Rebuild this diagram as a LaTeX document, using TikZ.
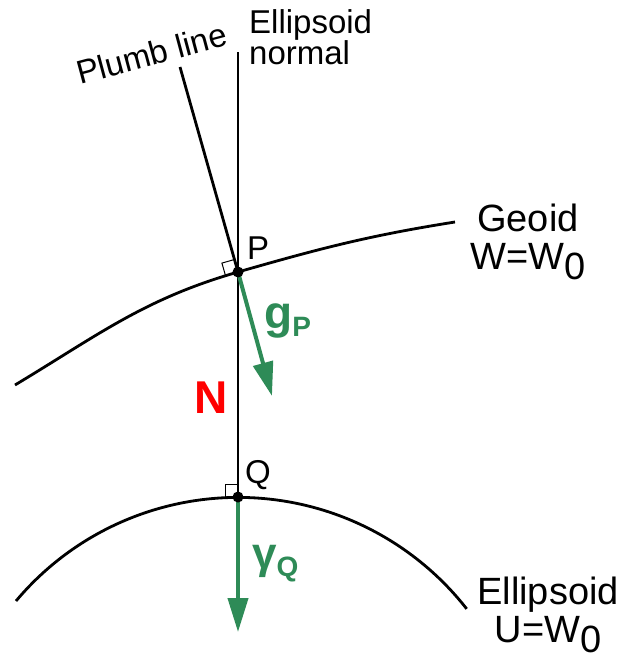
\documentclass[tikz,border=0pt]{standalone}
\usepackage{fontspec}
\setmainfont{Liberation Sans}
\usetikzlibrary{arrows.meta,positioning,calc}
\definecolor{gravgreen}{RGB}{46,139,87}

\begin{document}
\begin{tikzpicture}[x=1pt,y=-1pt,
    surface/.style={line width=2.8pt},
    vec/.style={gravgreen, line width=4pt, -{Triangle[length=34pt,width=20pt]}},
    rightangle/.style={line width=1pt},
    lbl/.style={inner sep=0pt, font=\fontsize{33}{27}\selectfont},
    biglbl/.style={inner sep=0pt, align=center, font=\fontsize{38}{38}\selectfont}]
    \useasboundingbox (0,0) rectangle (621,657);

    % Points P (geoid) and Q (ellipsoid)
    \coordinate (P) at (238,272);
    \coordinate (Q) at (238,497);
    \coordinate (normaltop) at (238,52);
    \coordinate (plumbtop) at (180,67);
    \coordinate (gtip) at (272,396);
    \coordinate (gammatip) at (238,632);

    % Geoid
    \draw[surface] (15,385) to[out=31,in=196] (P) to[out=16,in=189] (455,222);

    % Ellipsoid
    \draw[surface] (16,601) arc[start angle=-140, end angle=-38, radius=290];

    % Ellipsoid normal and plumb line
    \draw[surface] (normaltop) -- (Q);
    \draw[surface] (plumbtop) -- (P);

    % Right angles
    \draw[rightangle] (234.4,259.5) -- (221.9,263.1) -- (225.5,275.6);
    \draw[rightangle] (238,484) -- (225,484) -- (225,497);

    % Gravity vectors
    \draw[vec] (P) -- (gtip);
    \draw[vec] (Q) -- (gammatip);

    \fill (P) circle (5.5);
    \fill (Q) circle (5.5);

    % Labels
    \node[lbl, anchor=base west, rotate=15] (plumblbl) at (80,85) {Plumb line};
    \node[lbl, anchor=north west, align=left] (normallbl) at (249,9) {Ellipsoid\\normal};
    \node[biglbl, anchor=north] (geoidlbl) at (528,204) {Geoid\\W=W\raisebox{-10pt}{0}};
    \node[biglbl, anchor=north] (elllbl) at (548,577) {Ellipsoid\\U=W\raisebox{-10pt}{0}};
    \node[lbl, anchor=base west] (Plbl) at (247,259) {P};
    \node[lbl, anchor=base west] (Qlbl) at (245,483) {Q};
    \node[inner sep=0pt, anchor=base east, red, font=\fontsize{46}{46}\selectfont\bfseries] (Nlbl) at (228,413) {N};
    \node[inner sep=0pt, anchor=base west, gravgreen, font=\fontsize{46}{46}\selectfont\bfseries] (glbl) at (264,328)
        {g\raisebox{-8pt}{\fontsize{28}{28}\selectfont P}};
    \node[inner sep=0pt, anchor=base west, gravgreen, font=\fontsize{44}{44}\selectfont\bfseries] (gammalbl) at (252,568)
        {γ\raisebox{-8pt}{\fontsize{28}{28}\selectfont Q}};
\end{tikzpicture}
\end{document}
